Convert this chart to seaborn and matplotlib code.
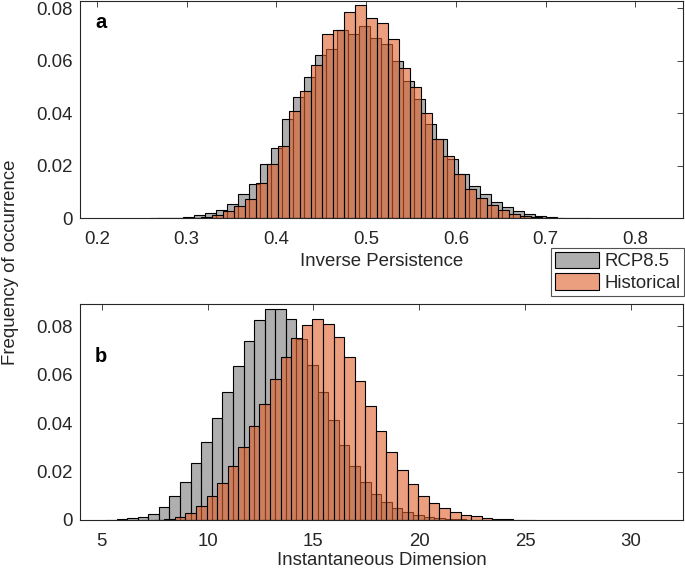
import numpy as np
import pandas as pd
import matplotlib
matplotlib.use("Agg")
import matplotlib.pyplot as plt
import seaborn as sns
from matplotlib.patches import Patch
from matplotlib.colors import to_rgba

# ---------------- data ----------------
series_names = ["RCP8.5", "Historical"]

# panel a: Inverse Persistence (frequency per bin)
ip_bin_width = 0.01225
ip_rcp_first_edge = 0.2593
ip_rcp_freq = [0.0001, 0.0002, 0.0003, 0.0005, 0.0011, 0.0020, 0.0033, 0.0055,
               0.0094, 0.0132, 0.0208, 0.0269, 0.0377, 0.0462, 0.0536, 0.0622,
               0.0643, 0.0716, 0.0700, 0.0731, 0.0688, 0.0664, 0.0598, 0.0522,
               0.0455, 0.0358, 0.0300, 0.0224, 0.0170, 0.0123, 0.0091, 0.0062,
               0.0042, 0.0028, 0.0018, 0.0010, 0.0005, 0.0002, 0.0001, 0.0001]
ip_hist_first_edge = 0.26705
ip_hist_freq = [0.0001, 0.0001, 0.0002, 0.0003, 0.0005, 0.0011, 0.0027, 0.0047,
                0.0074, 0.0136, 0.0205, 0.0275, 0.0409, 0.0485, 0.0585, 0.0702,
                0.0717, 0.0785, 0.0813, 0.0761, 0.0743, 0.0682, 0.0571, 0.0498,
                0.0399, 0.0300, 0.0239, 0.0170, 0.0113, 0.0079, 0.0052, 0.0030,
                0.0018, 0.0010, 0.0004, 0.0002, 0.0001]

# panel b: Instantaneous Dimension (frequency per bin)
dim_bin_width = 0.5
dim_rcp_first_edge = 5.2
dim_rcp_freq = [0.0001, 0.0003, 0.0007, 0.0014, 0.0026, 0.0055, 0.0099, 0.0159,
                0.0235, 0.0323, 0.0421, 0.0529, 0.0636, 0.0739, 0.0825, 0.0872,
                0.0872, 0.0832, 0.0749, 0.0642, 0.0528, 0.0415, 0.0311, 0.0225,
                0.0159, 0.0108, 0.0073, 0.0048, 0.0032, 0.0021, 0.0014, 0.0009,
                0.0006, 0.0004, 0.0002, 0.0001]
dim_hist_first_edge = 7.45
dim_hist_freq = [0.0001, 0.0004, 0.0011, 0.0029, 0.0057, 0.0099, 0.0152, 0.0221,
                 0.0300, 0.0387, 0.0479, 0.0582, 0.0674, 0.0753, 0.0805, 0.0829,
                 0.0811, 0.0756, 0.0674, 0.0573, 0.0470, 0.0369, 0.0281, 0.0206,
                 0.0148, 0.0101, 0.0069, 0.0050, 0.0033, 0.0021, 0.0015, 0.0010,
                 0.0006, 0.0004, 0.0002, 0.0001]

ip_xticks = [0.2, 0.3, 0.4, 0.5, 0.6, 0.7, 0.8]
ip_xticklabels = ["0.2", "0.3", "0.4", "0.5", "0.6", "0.7", "0.8"]
dim_xticks = [5, 10, 15, 20, 25, 30]
dim_xticklabels = ["5", "10", "15", "20", "25", "30"]
yticks = [0, 0.02, 0.04, 0.06, 0.08]
yticklabels = ["0", "0.02", "0.04", "0.06", "0.08"]

# ---------------- style ----------------
sns.set_style("white")
plt.rcParams["font.family"] = ["Liberation Sans", "DejaVu Sans"]
FS = 13.4
rcp_color = "#7a7a7a"
hist_color = "#e0602a"
ALPHA = 0.6
AX_COLOR = "#262626"

fig = plt.figure(figsize=(6.85, 5.69), dpi=100)
ax_a = fig.add_axes([80 / 685, 1 - 218.3 / 569, 603.3 / 685, 217.3 / 569])
ax_b = fig.add_axes([80 / 685, 1 - 520 / 569, 603.3 / 685, 215.7 / 569])


def draw(ax, first_edge, width, freq, color):
    freq = np.asarray(freq, dtype=float)
    edges = first_edge + width * np.arange(len(freq) + 1)
    centers = 0.5 * (edges[:-1] + edges[1:])
    df = pd.DataFrame({"x": centers, "w": freq})
    sns.histplot(data=df, x="x", weights="w", bins=[float(e) for e in edges],
                 ax=ax, color=color, alpha=ALPHA, edgecolor="black",
                 linewidth=0.8, stat="count")


draw(ax_a, ip_rcp_first_edge, ip_bin_width, ip_rcp_freq, rcp_color)
draw(ax_a, ip_hist_first_edge, ip_bin_width, ip_hist_freq, hist_color)
draw(ax_b, dim_rcp_first_edge, dim_bin_width, dim_rcp_freq, rcp_color)
draw(ax_b, dim_hist_first_edge, dim_bin_width, dim_hist_freq, hist_color)

ax_a.set_xlim(0.181, 0.8536)
ax_a.set_ylim(0, 0.0827)
ax_b.set_xlim(3.975, 32.47)
ax_b.set_ylim(0, 0.0891)

for ax, xt, xtl, xlabel, letter, ly, lpad in [
        (ax_a, ip_xticks, ip_xticklabels, "Inverse Persistence", "a", (218.3 - 28) / 217.3, 3.5),
        (ax_b, dim_xticks, dim_xticklabels, "Instantaneous Dimension", "b", (520 - 362) / 215.7, 1.0)]:
    ax.set_xticks(xt)
    ax.set_xticklabels(xtl)
    ax.set_yticks(yticks)
    ax.set_yticklabels(yticklabels)
    ax.set_xlabel(xlabel, fontsize=FS, color=AX_COLOR, labelpad=lpad)
    ax.set_ylabel("")
    ax.tick_params(direction="in", length=4, width=0.6, top=True, right=True,
                   labelsize=FS, colors=AX_COLOR)
    ax.tick_params(axis="y", pad=5)
    ax.tick_params(axis="x", pad=9.5)
    for s in ax.spines.values():
        s.set_visible(True)
        s.set_color(AX_COLOR)
        s.set_linewidth(0.8)
    ax.text(15 / 603.3, ly, letter, transform=ax.transAxes, fontsize=FS + 1,
            fontweight="bold", ha="left", va="baseline", color="black")

fig.text(11 / 685, 1 - 262 / 569, "Frequency of occurrence", rotation=90,
         ha="center", va="center", fontsize=FS, color=AX_COLOR)

handles = [Patch(facecolor=to_rgba(rcp_color, ALPHA), edgecolor="black", linewidth=0.8),
           Patch(facecolor=to_rgba(hist_color, ALPHA), edgecolor="black", linewidth=0.8)]
leg = fig.legend(handles, series_names, loc="upper right",
                 bbox_to_anchor=(684 / 685, 1 - 248 / 569),
                 fontsize=FS, frameon=True, fancybox=False,
                 handlelength=2.4, handleheight=1.0, handletextpad=0.25,
                 borderpad=0.2, labelspacing=0.15, borderaxespad=0)
leg.get_frame().set_edgecolor(AX_COLOR)
leg.get_frame().set_linewidth(0.8)

fig.savefig("out.png", dpi=100)
